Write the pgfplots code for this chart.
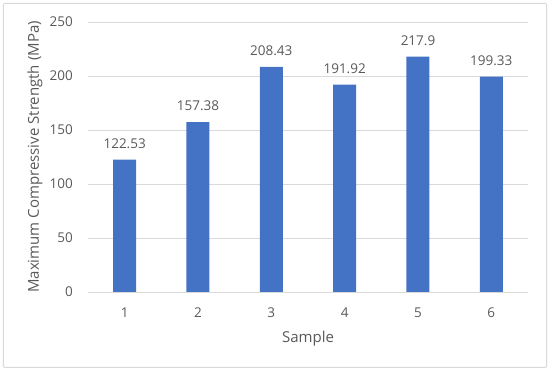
\documentclass[border=0pt]{standalone}
\usepackage{pgfplots}
\pgfplotsset{compat=1.18}
\usetikzlibrary{calc}
\usepackage{fontspec}
\setmainfont{Open Sans}
\definecolor{barblue}{HTML}{4472C4}
\definecolor{gridc}{HTML}{D9D9D9}
\definecolor{txt}{HTML}{595959}
\begin{document}
\begin{tikzpicture}
\begin{axis}[
  scale only axis, width=440pt, height=270pt,
  xmin=0.5, xmax=6.5, ymin=0, ymax=250,
  ytick={0,50,...,250},
  xtick={1,2,3,4,5,6},
  axis line style={draw=none},
  tick style={draw=none},
  ymajorgrids, grid style={gridc, line width=0.8pt},
  ybar, bar width=23pt,
  nodes near coords,
  every node near coord/.append style={font=\fontsize{13.5}{15}\selectfont, text=txt, inner sep=0pt, anchor=south, yshift=11pt},
  point meta=explicit symbolic,
  tick label style={font=\fontsize{13.5}{15}\selectfont, text=txt, inner sep=0pt},
  /pgf/number format/assume math mode=true,
  yticklabel style={anchor=east, xshift=-15pt},
  xticklabel style={anchor=north, yshift=-11pt},
  xlabel={Sample}, ylabel={Maximum Compressive Strength (MPa)},
  label style={font=\fontsize{15}{17}\selectfont, text=txt, inner sep=0pt},
  xlabel style={at={(rel axis cs:0.5,0)}, anchor=center, yshift=-47pt},
  ylabel style={at={(rel axis cs:0,0.5)}, anchor=center, yshift=53pt},
  clip=false,
]
\addplot[fill=barblue, draw=none] coordinates {
(1,122.53) [122.53]
(2,157.38) [157.38]
(3,208.43) [208.43]
(4,191.92) [191.92]
(5,217.9) [217.9]
(6,199.33) [199.33]
};
\coordinate (O) at (rel axis cs:0,0);
\end{axis}
\useasboundingbox ($(O)+(-88pt,-80pt)$) rectangle ($(O)+(462pt,292pt)$);
\draw[gridc, line width=1pt, rounded corners=1pt] ($(O)+(-84.5pt,-75.5pt)$) rectangle ($(O)+(458.5pt,288.5pt)$);
\end{tikzpicture}
\end{document}
